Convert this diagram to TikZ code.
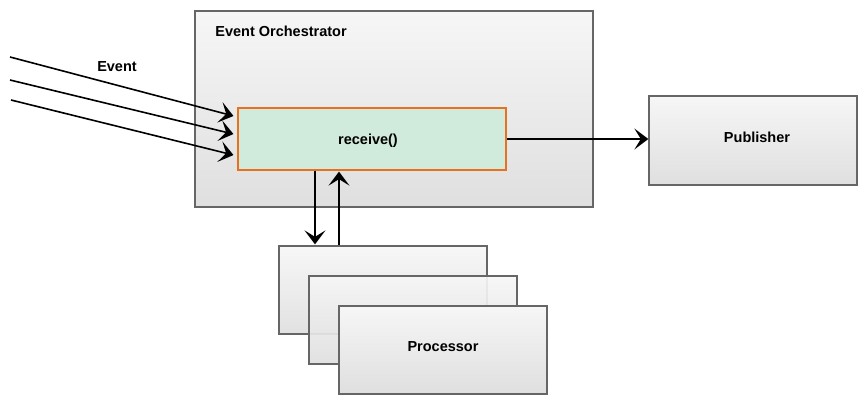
\documentclass[tikz,border=0pt]{standalone}
\usepackage{fontspec}
\setmainfont{Liberation Sans}
\usetikzlibrary{arrows.meta,positioning,shapes}
\usepackage{xcolor}
\definecolor{boxline}{HTML}{666666}
\definecolor{recvfill}{HTML}{D0EADC}
\definecolor{recvline}{HTML}{E8701E}

\begin{document}
\begin{tikzpicture}[x=1pt,y=-1pt,->,>={Stealth[length=14pt,width=21pt,inset=6.5pt]},line width=1.6pt,
      font=\fontsize{14.5}{16}\selectfont\bfseries,
      grey box/.style={rectangle,draw=boxline,line width=1.3pt,
          top color=gray!7,bottom color=gray!25,inner sep=0},
      recv box/.style={rectangle,draw=recvline,line width=1.3pt,
          fill=recvfill,inner sep=0},
      plain node/.style={inner sep=0, outer sep=0}]

    \useasboundingbox (0,0) rectangle (868,408);

    % orchestrator with its receive() box
    \node[grey box, minimum width=398pt, minimum height=196pt] (orch) at (394,109) {};
    \node[plain node, anchor=west] (orchname) at ([xshift=21pt,yshift=-21pt]orch.north west) {Event Orchestrator};
    \node[recv box, minimum width=268pt, minimum height=62pt] (recv) at (372,139) {};
    \node[plain node] (recvname) at (368,141) {receive()};

    % publisher
    \node[grey box, minimum width=208pt, minimum height=89pt] (pub) at (753,140.5) {};
    \node[plain node] (pubname) at (757,137) {Publisher};

    % stacked processors
    \node[grey box, minimum width=208pt, minimum height=88pt, fill opacity=0.92] (proc1) at (383,290) {};
    \node[grey box, minimum width=208pt, minimum height=88pt, fill opacity=0.92] (proc2) at (413,320) {};
    \node[grey box, minimum width=208pt, minimum height=88pt] (proc3) at (443,350) {};
    \node[plain node] (procname) at (443,347) {Processor};

    % incoming events
    \coordinate (ev1) at (10,57);
    \coordinate (ev2) at (10,80);
    \coordinate (ev3) at (11,100);
    \node[plain node] (evname) at (117,67) {Event};
    \draw[shorten >=4pt] (ev1) -- ([yshift=22pt]recv.west);
    \draw[shorten >=4pt] (ev2) -- ([yshift=4pt]recv.west);
    \draw[shorten >=4pt] (ev3) -- ([yshift=-17pt]recv.west);

    % receive() <-> processor
    \coordinate (down) at ([xshift=-57pt]recv.south);
    \coordinate (up) at ([xshift=-33pt]recv.south);
    \draw[shorten >=1pt] (down) -- (down |- proc1.north);
    \draw[shorten >=1pt] (up |- proc1.north) -- (up);

    % receive() -> publisher
    \draw (recv.east) -- (pub.west |- recv.east);

  \end{tikzpicture}
\end{document}
